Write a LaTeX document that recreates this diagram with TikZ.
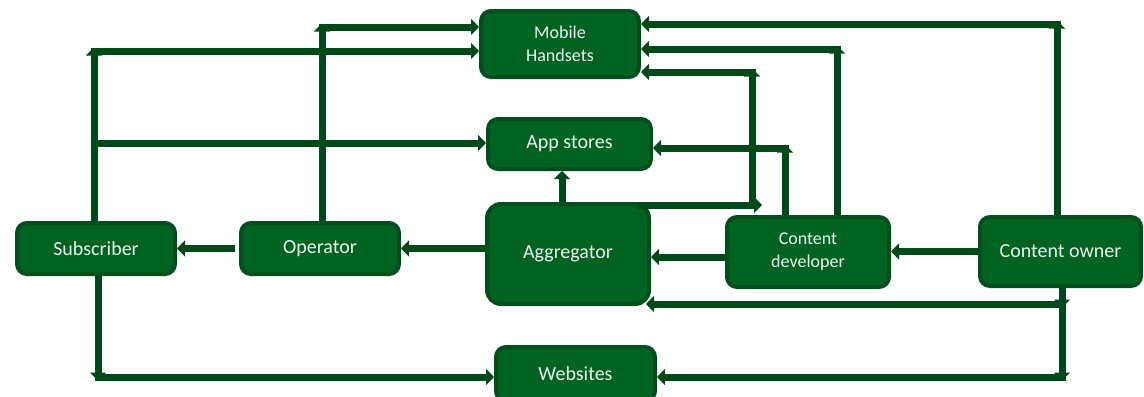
\documentclass[tikz,border=0pt]{standalone}
\usepackage{fontspec}
\setmainfont{Carlito}
\usetikzlibrary{arrows.meta}
\definecolor{boxgreen}{HTML}{006322}
\definecolor{edgegreen}{HTML}{004F1C}
\definecolor{linegreen}{HTML}{00491A}
\definecolor{textwhite}{HTML}{EEF5EE}
\begin{document}
\begin{tikzpicture}[x=0.5pt, y=-0.5pt,
    box/.style={draw=edgegreen, line width=2pt, fill=boxgreen, rounded corners=5pt,
        text=textwhite, align=center, inner sep=0pt, font=\fontsize{10}{12}\selectfont},
    small/.style={font=\fontsize{9}{11.5}\selectfont},
    conn/.style={draw=linegreen, line width=3.5pt, -{Triangle[length=4pt, width=8pt]}}]
    \useasboundingbox (0,0) rectangle (1144,396);

    % 方框
    \node[box, small, minimum width=79pt, minimum height=33pt] (mob) at (560,44) {Mobile\\Handsets};
    \node[box, minimum width=81.5pt, minimum height=25pt] (app) at (569.5,144) {App stores};
    \node[box, minimum width=79pt, minimum height=25.5pt] (sub) at (96,248.5) {Subscriber};
    \node[box, minimum width=79pt, minimum height=25.5pt] (opr) at (320,248.5) {Operator};
    \node[box, rounded corners=7pt, minimum width=81pt, minimum height=50pt] (agg) at (568,254) {Aggregator};
    \node[box, small, minimum width=81pt, minimum height=35pt] (dev) at (808,252) {Content\\developer};
    \node[box, minimum width=80.5pt, minimum height=34.5pt] (own) at (1060.5,251.5) {Content owner};
    \node[box, minimum width=79.5pt, minimum height=27pt] (web) at (575.5,374) {Websites};

    % 拐点
    \coordinate (s1) at (94,51);
    \coordinate (s2) at (94,143);
    \coordinate (s3) at (98,377);
    \coordinate (o1) at (322,27);
    \coordinate (g1) at (752,205);
    \coordinate (g2) at (752,72);
    \coordinate (d1) at (785,148);
    \coordinate (d2) at (837,49);
    \coordinate (w1) at (1057,24);
    \coordinate (w2) at (1062,304);
    \coordinate (w3) at (1062,377);

    % Subscriber
    \draw[conn] (sub.north -| s1) -- ([yshift=1.75pt]s1);
    \draw[conn] ([xshift=-1.75pt]s1) -- (mob.west |- s1);
    \draw[conn] (s2) -- (app.west |- s2);
    \draw[conn] (sub.south -| s3) -- ([yshift=-1.75pt]s3);
    \draw[conn] ([xshift=-1.75pt]s3) -- (web.west |- s3);

    % Operator
    \draw[conn] (opr.north -| o1) -- ([yshift=1.75pt]o1);
    \draw[conn] ([xshift=-1.75pt]o1) -- (mob.west |- o1);
    \draw[conn] ([xshift=-2pt]opr.west) -- (sub.east |- opr.west);

    % Aggregator
    \draw[conn] (agg.west |- opr.east) -- (opr.east);
    \draw[conn] ([xshift=-3pt]agg.north) -- ([xshift=-3pt]app.south -| agg.north);
    \draw[conn] ([xshift=-7pt]agg.north east |- g1) -- ([xshift=5pt]g1);
    \draw[conn] (g1) -- ([yshift=1.75pt]g2);
    \draw[conn] ([xshift=1.75pt]g2) -- (mob.east |- g2);

    % Content developer
    \draw[conn] (dev.north -| d1) -- ([yshift=1.75pt]d1);
    \draw[conn] ([xshift=1.75pt]d1) -- (app.east |- d1);
    \draw[conn] (dev.north -| d2) -- ([yshift=1.75pt]d2);
    \draw[conn] ([xshift=1.75pt]d2) -- (mob.east |- d2);
    \draw[conn] ([yshift=-2.5pt]dev.west) -- ([yshift=-2.5pt]dev.west -| agg.east);

    % Content owner
    \draw[conn] (own.north -| w1) -- ([yshift=1.75pt]w1);
    \draw[conn] ([xshift=1.75pt]w1) -- (mob.east |- w1);
    \draw[conn] (own.west) -- (dev.east |- own.west);
    \draw[conn] (own.south -| w2) -- ([yshift=-1.75pt]w2);
    \draw[conn, shorten >=-2.5pt] ([xshift=1.75pt]w2) -- (agg.south east |- w2);
    \draw[conn] (w2) -- ([yshift=-1.75pt]w3);
    \draw[conn] ([xshift=1.75pt]w3) -- (web.east |- w3);
\end{tikzpicture}
\end{document}
